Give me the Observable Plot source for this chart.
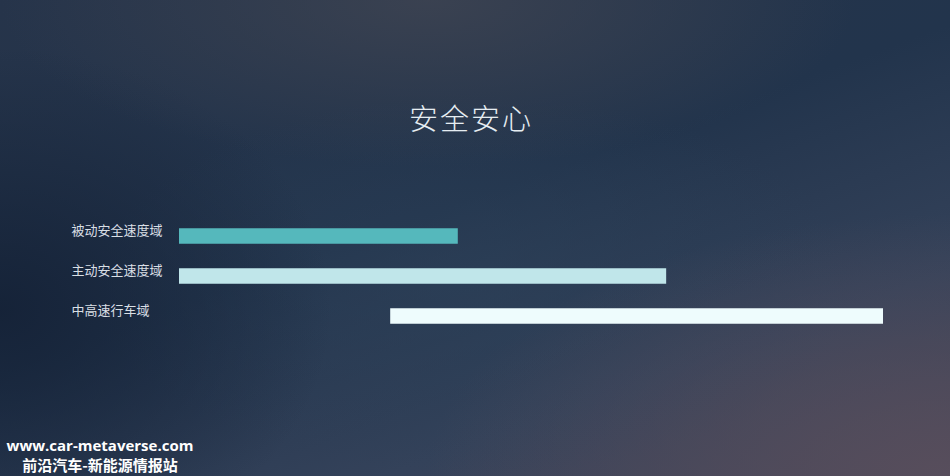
<!DOCTYPE html>
<html>
<head>
<meta charset="utf-8">
<script src="https://cdn.jsdelivr.net/npm/d3@7"></script>
<script src="https://cdn.jsdelivr.net/npm/@observablehq/plot@0.6"></script>
<style>
  html, body { margin: 0; padding: 0; }
  #wrap {
    position: relative; width: 950px; height: 476px; overflow: hidden;
    background:
      radial-gradient(ellipse 45% 35% at 45% 0%, rgba(62,68,82,0.85), rgba(62,68,82,0) 100%),
      radial-gradient(ellipse 55% 55% at 100% 100%, rgba(88,78,92,0.95), rgba(88,78,92,0) 100%),
      radial-gradient(ellipse 35% 55% at 0% 65%, rgba(20,33,54,0.9), rgba(20,33,54,0) 100%),
      radial-gradient(ellipse 40% 40% at 50% 60%, rgba(44,64,88,0.7), rgba(44,64,88,0) 100%),
      linear-gradient(160deg, #26344a 0%, #22344c 45%, #34425a 75%, #474658 100%);
    font-family: "Noto Sans CJK SC", "Noto Sans", sans-serif;
  }
  #title {
    position: absolute; left: -4px; width: 950px; top: 96px; text-align: center;
    color: #e6edf2; font-size: 29px; font-weight: 300; letter-spacing: 2px;
  }
  #wm {
    position: absolute; left: 1px; top: 436px; width: 198px; text-align: center;
    color: #ffffff; font-weight: bold;
  }
  #wm .l1 { font-size: 15px; line-height: 19px; height: 19px; font-family: "Open Sans", "Noto Sans", sans-serif; }
  #wm .l2 { font-size: 15px; line-height: 19px; height: 19px; font-family: "Noto Sans CJK SC", sans-serif; }
  #chart { position: absolute; left: 0; top: 0; }
</style>
</head>
<body>
<div id="wrap">
  <div id="chart"></div>
  <div id="title">安全安心</div>
  <div id="wm"><div class="l1">www.car-metaverse.com</div><div class="l2">前沿汽车-新能源情报站</div></div>
</div>
<script>
const categories = ["被动安全速度域", "主动安全速度域", "中高速行车域"];
const startValues = [0, 0, 30];
const endValues = [39.6, 69.2, 100];
const barColors = ["#55b8bc", "#c0e6ea", "#eefcfd"];

const rows = categories.map((c, i) => ({cat: c, x1: startValues[i], x2: endValues[i], color: barColors[i]}));

const chart = Plot.plot({
  width: 950,
  height: 476,
  marginLeft: 179,
  marginRight: 67,
  marginTop: 0,
  marginBottom: 0,
  style: {background: "transparent", fontFamily: "'Noto Sans CJK SC', sans-serif"},
  x: {domain: [0, 100], axis: null},
  y: {type: "band", domain: categories, range: [215.5, 335.5], padding: 0, axis: null},
  marks: [
    Plot.barX(rows, {y: "cat", x1: "x1", x2: "x2", fill: "color", insetTop: 12.25, insetBottom: 12.25}),
    Plot.text(rows, {y: "cat", text: "cat", frameAnchor: "left", textAnchor: "start", dx: -108, dy: -6,
      fill: "#d9dfe5", fontSize: 13})
  ]
});
document.getElementById("chart").appendChild(chart);
</script>
</body>
</html>
